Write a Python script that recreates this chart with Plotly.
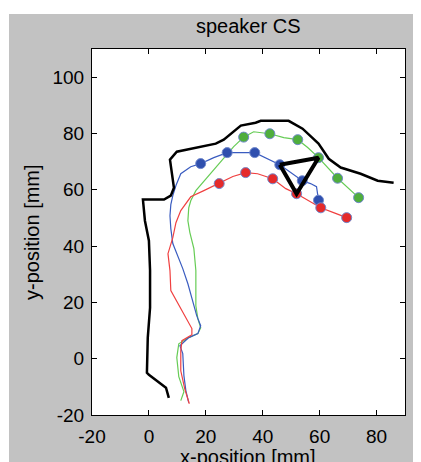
import plotly.graph_objects as go

# ---- data ----
outline_x = [7.0, 6.0, 0.0, -0.7, -0.4, 0.4, 0.4, 0.0, -1.4, -2.1, 5.3, 7.7, 8.8, 7.4, 9.8, 23.5, 26.3, 32.3, 37.5, 39.3, 49.1, 54.0, 59.6, 63.2, 67.4, 74.4, 80.4, 86.0]
outline_y = [-13.9, -10.3, -5.7, -5.0, 7.5, 18.1, 31.3, 41.9, 49.0, 56.5, 56.5, 57.9, 60.7, 70.7, 73.5, 76.4, 77.8, 82.8, 83.8, 84.5, 84.5, 81.7, 76.4, 71.0, 67.9, 65.7, 63.2, 62.5]

green_line_x = [11.2, 12.3, 10.5, 9.8, 10.5, 14.0, 17.2, 18.2, 17.2, 16.5, 16.5, 15.8, 14.4, 13.7, 14.0, 14.7, 16.5, 20.0, 25.3, 29.8, 33.3, 36.8, 42.5, 47.4, 52.3, 55.8, 59.6, 66.3, 73.7]
green_line_y = [-14.9, -11.7, -6.4, 0.4, 5.3, 7.5, 8.9, 11.0, 14.2, 18.8, 31.3, 39.1, 44.8, 49.0, 53.6, 56.1, 59.7, 63.9, 70.3, 75.3, 78.7, 80.6, 79.9, 78.5, 77.8, 75.0, 71.4, 64.1, 57.2]
green_pts_x = [33.3, 42.5, 52.3, 59.6, 66.3, 73.7]
green_pts_y = [78.7, 79.9, 77.8, 71.4, 64.1, 57.2]

blue_line_x = [14.0, 13.0, 12.3, 11.9, 10.9, 14.0, 17.2, 18.2, 16.8, 15.4, 13.7, 11.9, 10.2, 8.4, 7.7, 7.4, 7.7, 8.4, 9.5, 11.2, 14.7, 18.2, 22.8, 27.5, 37.2, 41.8, 46.0, 53.9, 56.8, 58.9, 59.6]
blue_line_y = [-15.6, -11.4, -6.0, 1.8, 4.6, 7.5, 8.9, 11.7, 15.3, 20.6, 26.6, 32.0, 36.2, 40.9, 46.2, 50.8, 54.7, 57.9, 61.5, 65.7, 68.2, 69.3, 71.4, 73.2, 73.2, 71.0, 68.9, 63.2, 62.2, 61.1, 56.3]
blue_pts_x = [18.2, 27.5, 37.2, 46.0, 53.9, 59.6]
blue_pts_y = [69.3, 73.2, 73.2, 68.9, 63.2, 56.3]

red_line_x = [14.2, 12.6, 11.2, 11.2, 11.6, 15.1, 15.1, 13.0, 10.2, 7.7, 7.4, 6.7, 8.4, 9.5, 11.2, 14.7, 19.3, 24.7, 29.5, 34.0, 38.2, 43.5, 48.1, 51.9, 56.1, 60.4, 64.9, 69.5]
red_line_y = [-16.0, -10.7, -4.3, 2.8, 6.4, 8.5, 10.7, 14.6, 19.5, 24.2, 31.3, 37.3, 43.0, 48.3, 52.6, 57.5, 59.7, 62.2, 64.7, 66.1, 65.7, 63.9, 60.4, 58.6, 56.1, 53.6, 51.9, 50.1]
red_pts_x = [24.7, 34.0, 43.5, 51.9, 60.4, 69.5]
red_pts_y = [62.2, 66.1, 63.9, 58.6, 53.6, 50.1]

tri_index = 3  # markers joined by the triangle

x_ticks = [-20, 0, 20, 40, 60, 80]
y_ticks = [-20, 0, 20, 40, 60, 80, 100]

# ---- figure ----
FONT = "Liberation Sans, Arial"
fig = go.Figure()

series = [
    (green_line_x, green_line_y, green_pts_x, green_pts_y, "#66cc55", "#4fae3c"),
    (blue_line_x, blue_line_y, blue_pts_x, blue_pts_y, "#3a5cc0", "#2f4fae"),
    (red_line_x, red_line_y, red_pts_x, red_pts_y, "#f04040", "#e52a2a"),
]
for lx, ly, px, py, lc, mc in series:
    fig.add_trace(go.Scatter(x=lx, y=ly, mode="lines", line=dict(color=lc, width=1.2),
                             hoverinfo="skip", showlegend=False))

fig.add_trace(go.Scatter(x=outline_x, y=outline_y, mode="lines",
                         line=dict(color="black", width=2.5), showlegend=False))

for lx, ly, px, py, lc, mc in series:
    fig.add_trace(go.Scatter(x=px, y=py, mode="markers",
                             marker=dict(color=mc, size=10, line=dict(color="#7088cc", width=1)),
                             showlegend=False))

tri_x = [blue_pts_x[tri_index], green_pts_x[tri_index], red_pts_x[tri_index], blue_pts_x[tri_index]]
tri_y = [blue_pts_y[tri_index], green_pts_y[tri_index], red_pts_y[tri_index], blue_pts_y[tri_index]]
fig.add_trace(go.Scatter(x=tri_x, y=tri_y, mode="lines",
                         line=dict(color="black", width=4), showlegend=False))

axis_common = dict(
    showgrid=False, zeroline=False, showline=True, linecolor="black", linewidth=1,
    mirror="ticks", ticks="inside", ticklen=5, tickcolor="black", automargin=False,
    tickfont=dict(family=FONT, size=19, color="black"),
)

fig.update_xaxes(range=[-20, 90], tickvals=x_ticks, ticktext=[str(v) for v in x_ticks],
                 ticklabelstandoff=4, **axis_common)
fig.update_yaxes(range=[-20, 110], tickvals=y_ticks, ticktext=[str(v) for v in y_ticks],
                 ticklabelstandoff=3, **axis_common)

# The page body has an 8px margin; the figure is sized/placed so the page matches 421x462.
OFF = 8
W, H = 421 - OFF, 462 - OFF
PL, PT, PB, PR = 92 - OFF, 49 - OFF, 415 - OFF, 405 - OFF
PH = PB - PT
PW = PR - PL

def px_to_paper(x, y):
    return (x - OFF - PL) / PW, (PB - (y - OFF)) / PH

tx, ty = px_to_paper(248, 26)
xx, xy = px_to_paper(248, 457)
yx, yy = px_to_paper(32, 232)
_, top_white = px_to_paper(0, 14)
left_white, _ = px_to_paper(9, 0)

fig.update_layout(
    width=W, height=H,
    margin=dict(l=PL, r=W - PR, t=PT, b=H - PB, autoexpand=False),
    paper_bgcolor="#c2c2c2", plot_bgcolor="white",
    annotations=[
        dict(text="speaker CS", xref="paper", yref="paper", x=tx, y=ty, xanchor="center",
             yanchor="middle", showarrow=False, font=dict(family=FONT, size=20, color="black")),
        dict(text="x-position [mm]", xref="paper", yref="paper", x=xx, y=xy, xanchor="center",
             yanchor="middle", showarrow=False, font=dict(family=FONT, size=20, color="black")),
        dict(text="y-position [mm]", xref="paper", yref="paper", x=yx, y=yy, xanchor="center",
             yanchor="middle", textangle=-90, showarrow=False,
             font=dict(family=FONT, size=20, color="black")),
    ],
    shapes=[
        dict(type="rect", xref="paper", yref="paper", x0=-0.5, x1=1.2,
             y0=top_white, y1=1.3, fillcolor="white", line=dict(width=0), layer="below"),
        dict(type="rect", xref="paper", yref="paper", x0=-0.5, x1=left_white,
             y0=-0.3, y1=1.3, fillcolor="white", line=dict(width=0), layer="below"),
    ],
)

fig.write_html("out.html")
